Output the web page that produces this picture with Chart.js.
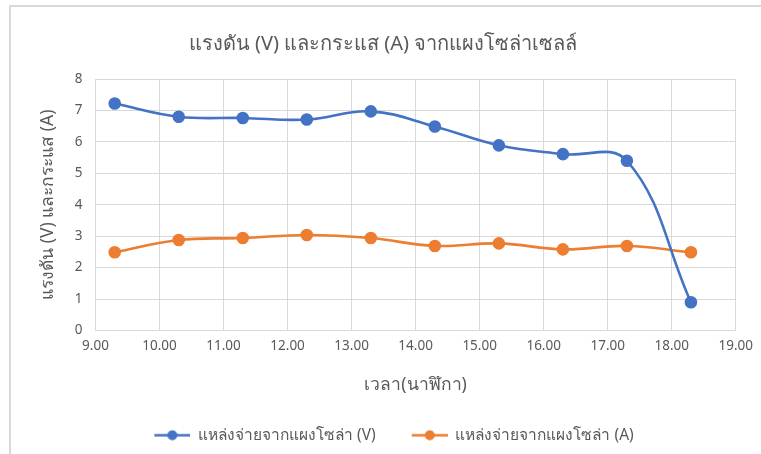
<!DOCTYPE html>
<html>
<head>
<meta charset="utf-8">
<script src="https://cdn.jsdelivr.net/npm/chart.js@4.4.1/dist/chart.umd.min.js"></script>
<style>
  html, body { margin: 0; padding: 0; background: #fff; overflow: hidden; }
  #wrap { position: relative; width: 761px; height: 454px; }
  #frame { position: absolute; left: 9px; top: 5px; width: 800px; height: 500px; border: 2px solid #d9d9d9; box-sizing: border-box; }
  #myChart { position: absolute; left: 0; top: 0; }
</style>
</head>
<body>
<div id="wrap">
  <div id="frame"></div>
  <canvas id="myChart" width="761" height="454"></canvas>
</div>
<script>
// เวลา (ชั่วโมง.นาที) ที่วัดค่า
const times = [9.3, 10.3, 11.3, 12.3, 13.3, 14.3, 15.3, 16.3, 17.3, 18.3];
// แรงดัน (V)
const voltage = [7.22, 6.8, 6.76, 6.71, 6.97, 6.49, 5.89, 5.61, 5.4, 0.9];
// กระแส (A)
const current = [2.49, 2.88, 2.94, 3.04, 2.94, 2.69, 2.77, 2.58, 2.69, 2.49];

const seriesNames = ['แหล่งจ่ายจากแผงโซล่า (V)', 'แหล่งจ่ายจากแผงโซล่า (A)'];
const seriesColors = ['#4472C4', '#ED7D31'];

const fontFamily = '"Noto Sans", "DejaVu Sans", sans-serif';
const textColor = '#595959';

// ระยะว่างหน้าไอคอน legend (ให้ช่องห่างระหว่างรายการกว้างขึ้น)
const iconGap = 22;

function toPoints(ys) {
    return times.map((t, i) => ({ x: t, y: ys[i] }));
}

// ไอคอนเส้น+จุด สำหรับ legend
function legendIcon(color) {
    const c = document.createElement('canvas');
    c.width = iconGap + 36;
    c.height = 11;
    const g = c.getContext('2d');
    g.strokeStyle = color;
    g.lineWidth = 2.5;
    g.beginPath();
    g.moveTo(iconGap, 5.5);
    g.lineTo(iconGap + 36, 5.5);
    g.stroke();
    g.fillStyle = color;
    g.beginPath();
    g.arc(iconGap + 18, 5.5, 5, 0, Math.PI * 2);
    g.fill();
    return c;
}

const ctx = document.getElementById('myChart').getContext('2d');

const chart = new Chart(ctx, {
    type: 'scatter',
    data: {
        datasets: [voltage, current].map((ys, i) => ({
            label: seriesNames[i],
            data: toPoints(ys),
            showLine: true,
            borderColor: seriesColors[i],
            backgroundColor: seriesColors[i],
            pointBackgroundColor: seriesColors[i],
            pointBorderColor: seriesColors[i],
            pointRadius: 5,
            pointStyle: 'circle',
            borderWidth: 2.6,
            tension: 0.4,
        }))
    },
    options: {
        responsive: false,
        animation: false,
        layout: { padding: { left: 30, right: 25, top: 0, bottom: 1 } },
        scales: {
            x: {
                type: 'linear',
                min: 9,
                max: 19,
                ticks: {
                    stepSize: 1,
                    color: textColor,
                    padding: 8,
                    font: { family: fontFamily, size: 13.5 },
                    callback: (v) => v.toFixed(2),
                },
                grid: { color: '#d9d9d9', lineWidth: 1, drawTicks: false },
                border: { display: false },
                title: {
                    display: true,
                    text: 'เวลา(นาฬิกา)',
                    color: textColor,
                    font: { family: fontFamily, size: 17.5 },
                    padding: { top: 16, bottom: 18 },
                },
                afterFit: (scale) => { scale.height = 83; },
            },
            y: {
                min: 0,
                max: 8,
                ticks: {
                    stepSize: 1,
                    color: textColor,
                    padding: 13,
                    font: { family: fontFamily, size: 13.5 },
                },
                grid: { color: '#d9d9d9', lineWidth: 1, drawTicks: false },
                border: { display: false },
                title: {
                    display: true,
                    text: 'แรงดัน (V) และกระแส (A)',
                    color: textColor,
                    font: { family: fontFamily, size: 17.5 },
                    padding: { top: 8, bottom: 0 },
                },
                afterFit: (scale) => { scale.width = 65.5; },
            },
        },
        plugins: {
            title: {
                display: true,
                text: 'แรงดัน (V) และกระแส (A) จากแผงโซล่าเซลล์',
                color: textColor,
                font: { family: fontFamily, size: 20, weight: 'normal' },
                padding: { top: 32, bottom: 23 },
            },
            legend: {
                position: 'bottom',
                labels: {
                    color: textColor,
                    font: { family: fontFamily, size: 15.5 },
                    usePointStyle: true,
                    pointStyleWidth: iconGap + 36,
                    padding: 14,
                    generateLabels: (c) => c.data.datasets.map((ds, i) => ({
                        text: ds.label,
                        fontColor: textColor,
                        pointStyle: legendIcon(seriesColors[i]),
                        datasetIndex: i,
                        lineWidth: 0,
                        hidden: false,
                    })),
                },
            },
            tooltip: { enabled: false },
        },
    },
});
</script>
</body>
</html>
